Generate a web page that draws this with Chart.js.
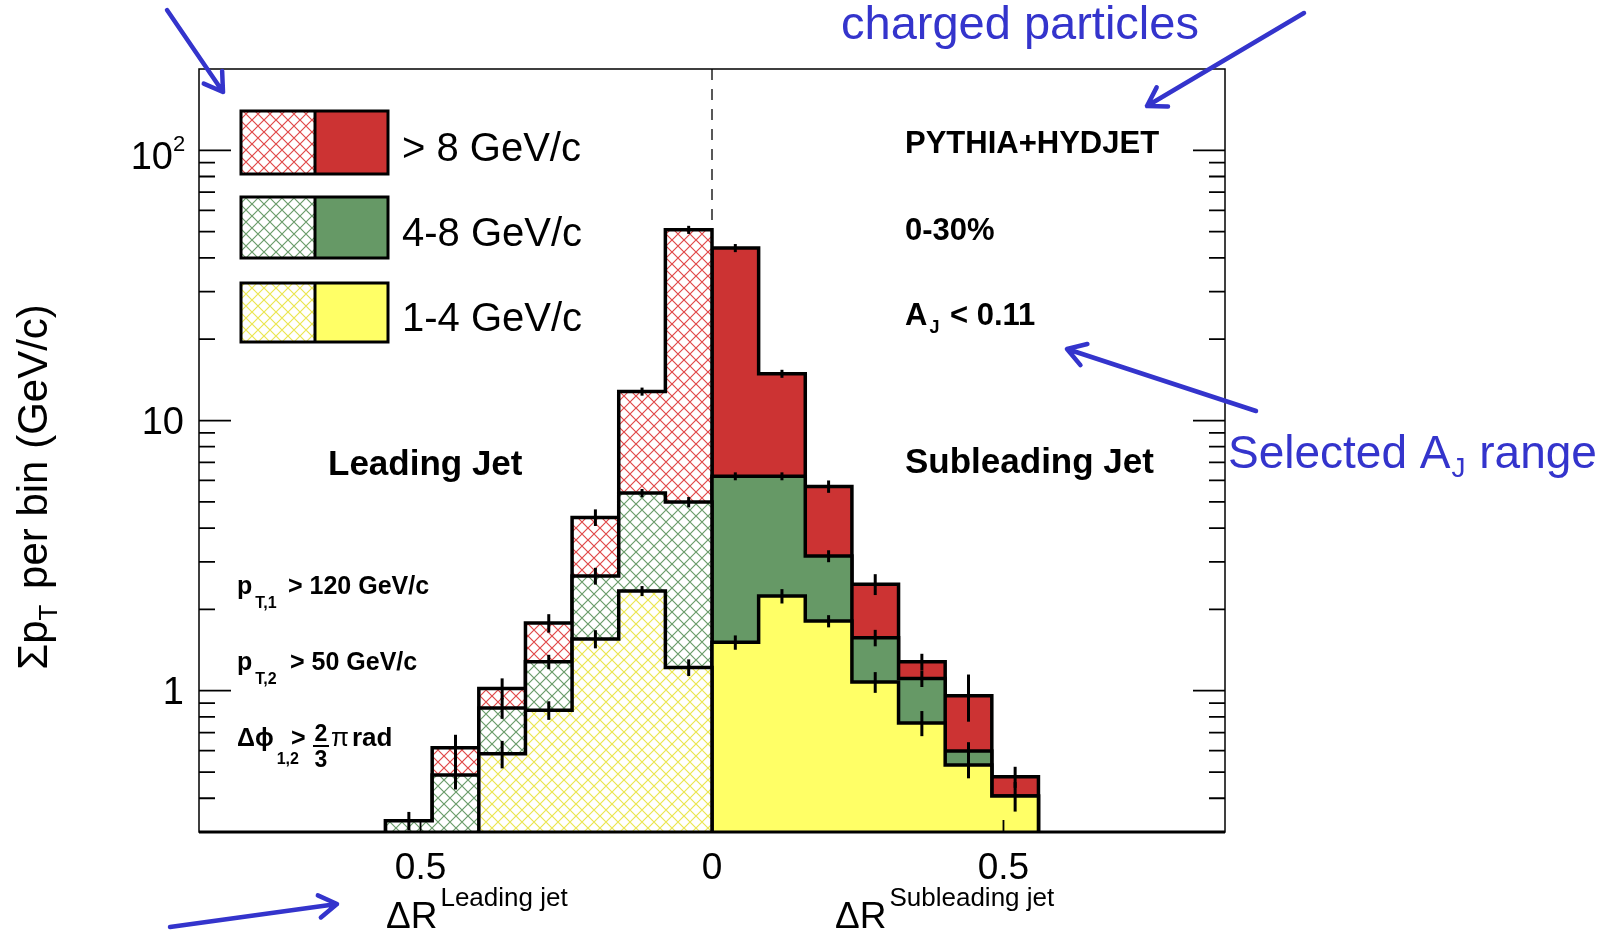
<!DOCTYPE html>
<html>
<head>
<meta charset="utf-8">
<script src="https://cdn.jsdelivr.net/npm/chart.js@4.4.1/dist/chart.umd.min.js"></script>
<style>
  html, body { margin: 0; padding: 0; background: #fff; }
  #wrap { width: 1614px; height: 932px; }
</style>
</head>
<body>
<div id="wrap"><canvas id="jetChart" width="1614" height="932"></canvas></div>
<script>
// ΔR bins (0.08 wide); leading jet is drawn on the negative side
const binWidth = 0.08;
const leadBins = [-0.56, -0.48, -0.40, -0.32, -0.24, -0.16, -0.08];
const subBins  = [0, 0.08, 0.16, 0.24, 0.32, 0.40, 0.48];

// stacked sums (GeV/c): 1-4, 1-8, all (>1)
const lead1to4  = [0.2, 0.2, 0.584, 0.847, 1.555, 2.34, 1.22];
const lead1to8  = [0.33, 0.488, 0.863, 1.28, 2.66, 5.39, 4.99];
const leadAll   = [0.33, 0.615, 1.02, 1.78, 4.38, 12.8, 50.8];
const sub1to4   = [1.51, 2.24, 1.81, 1.077, 0.76, 0.531, 0.408];
const sub1to8   = [6.22, 6.22, 3.15, 1.57, 1.11, 0.598, 0.408];
const subAll    = [43.5, 14.9, 5.70, 2.48, 1.28, 0.958, 0.48];

// error bars
const lead1to4Err = [0, 0, 0.068, 0.067, 0.12, 0.10, 0.086];
const lead1to8Err = [0, 0.057, 0.076, 0.078, 0.19, 0.19, 0.22];
const leadAllErr  = [0.026, 0.072, 0.091, 0.14, 0.31, 0.44, 1.75];
const sub1to4Err  = [0.092, 0.137, 0.094, 0.095, 0.081, 0.057, 0.051];
const sub1to8Err  = [0.21, 0.21, 0.16, 0.11, 0.078, 0.047, 0];
const subAllErr   = [1.5, 0.51, 0.30, 0.22, 0.09, 0.19, 0.043];

// axis ticks
const yMajor = [1, 10, 100];
const yMinor = [0.4, 0.5, 0.6, 0.7, 0.8, 0.9, 2, 3, 4, 5, 6, 7, 8, 9, 20, 30, 40, 50, 60, 70, 80, 90];
const xTicks = [-0.5, 0, 0.5];
const xTickLabels = ['0.5', '0', '0.5'];

const legendLabels = ['> 8 GeV/c', '4-8 GeV/c', '1-4 GeV/c'];

const FONT = '"Liberation Sans", Arial, Helvetica, sans-serif';
const BLUE = '#3434cc';
const RED = '#cc3333', GREEN = '#669966', YELLOW = '#ffff66';

// cross hatch on white, like ROOT fill style 3344
function hatch(color) {
  const s = 12;
  const c = document.createElement('canvas');
  c.width = c.height = s;
  const g = c.getContext('2d');
  g.fillStyle = '#fff';
  g.fillRect(0, 0, s, s);
  g.strokeStyle = color;
  g.lineWidth = 1.2;
  g.beginPath();
  g.moveTo(-1, -1); g.lineTo(s + 1, s + 1);
  g.moveTo(s + 1, -1); g.lineTo(-1, s + 1);
  g.stroke();
  return g.createPattern(c, 'repeat');
}
const redHatch = hatch('#e04848');
const greenHatch = hatch('#6a9c6a');
const yellowHatch = hatch('#ebe650');

// histogram outline as a step line, closed down to the floor at both ends
const FLOOR = 0.05;
function stepData(edges, vals) {
  const pts = [{ x: edges[0], y: FLOOR }];
  vals.forEach((v, i) => pts.push({ x: edges[i], y: v }));
  const end = edges[edges.length - 1] + binWidth;
  pts.push({ x: end, y: vals[vals.length - 1] });
  pts.push({ x: end, y: FLOOR });
  return pts;
}
function histo(edges, vals, fill, order) {
  return {
    data: stepData(edges, vals),
    stepped: true,
    fill: 'start',
    backgroundColor: fill,
    borderColor: '#000',
    borderWidth: 3.5,
    borderJoinStyle: 'miter',
    pointRadius: 0,
    order: order
  };
}

const errorSets = [
  [leadBins, lead1to4, lead1to4Err], [leadBins, lead1to8, lead1to8Err], [leadBins, leadAll, leadAllErr],
  [subBins, sub1to4, sub1to4Err], [subBins, sub1to8, sub1to8Err], [subBins, subAll, subAllErr]
];

function runs(ctx, x, y, parts) {
  let cx = x;
  ctx.textAlign = 'left';
  parts.forEach(p => {
    ctx.font = p[1];
    ctx.fillText(p[0], cx, y + (p[2] || 0));
    cx += ctx.measureText(p[0]).width + (p[3] || 0);
  });
}
function runsWidth(ctx, parts) {
  let w = 0;
  parts.forEach(p => { ctx.font = p[1]; w += ctx.measureText(p[0]).width + (p[3] || 0); });
  return w;
}

function arrow(ctx, x1, y1, x2, y2) {
  const a = Math.atan2(y1 - y2, x1 - x2);
  const L = 21, t = 32 * Math.PI / 180;
  ctx.beginPath();
  ctx.moveTo(x1, y1); ctx.lineTo(x2, y2);
  ctx.moveTo(x2 + L * Math.cos(a + t), y2 + L * Math.sin(a + t));
  ctx.lineTo(x2, y2);
  ctx.lineTo(x2 + L * Math.cos(a - t), y2 + L * Math.sin(a - t));
  ctx.stroke();
}

// dashed line at ΔR = 0 behind the histograms
const centreLine = {
  id: 'centreLine',
  beforeDatasetsDraw(chart) {
    const { ctx, chartArea, scales: { x } } = chart;
    const px = x.getPixelForValue(0);
    ctx.save();
    ctx.strokeStyle = '#222';
    ctx.lineWidth = 1.5;
    ctx.setLineDash([11, 9]);
    ctx.beginPath();
    ctx.moveTo(px, chartArea.top);
    ctx.lineTo(px, chartArea.bottom);
    ctx.stroke();
    ctx.restore();
  }
};

const errorBars = {
  id: 'errorBars',
  afterDatasetsDraw(chart) {
    const { ctx, chartArea, scales: { x, y } } = chart;
    ctx.save();
    ctx.beginPath();
    ctx.rect(chartArea.left, chartArea.top, chartArea.right - chartArea.left, chartArea.bottom - chartArea.top);
    ctx.clip();
    ctx.strokeStyle = '#000';
    ctx.lineWidth = 3;
    errorSets.forEach(([edges, vals, errs]) => {
      edges.forEach((e, i) => {
        if (!errs[i]) return;
        const px = x.getPixelForValue(e + binWidth / 2);
        ctx.beginPath();
        ctx.moveTo(px, y.getPixelForValue(Math.max(vals[i] - errs[i], FLOOR)));
        ctx.lineTo(px, y.getPixelForValue(vals[i] + errs[i]));
        ctx.stroke();
      });
    });
    ctx.restore();
  }
};

const decorations = {
  id: 'decorations',
  afterDraw(chart) {
    const { ctx, chartArea: a, scales: { x, y } } = chart;
    ctx.save();

    // ticks on both y sides and bottom
    ctx.strokeStyle = '#000';
    ctx.lineWidth = 1.8;
    ctx.beginPath();
    yMajor.forEach(v => {
      const py = y.getPixelForValue(v);
      ctx.moveTo(a.left, py); ctx.lineTo(a.left + 32, py);
      ctx.moveTo(a.right, py); ctx.lineTo(a.right - 32, py);
    });
    yMinor.forEach(v => {
      const py = y.getPixelForValue(v);
      ctx.moveTo(a.left, py); ctx.lineTo(a.left + 16, py);
      ctx.moveTo(a.right, py); ctx.lineTo(a.right - 16, py);
    });
    xTicks.forEach(v => {
      const px = x.getPixelForValue(v);
      ctx.moveTo(px, a.bottom); ctx.lineTo(px, a.bottom - 12);
    });
    ctx.stroke();

    // frame
    ctx.lineWidth = 1.5;
    ctx.strokeRect(a.left, a.top, a.right - a.left, a.bottom - a.top);
    ctx.lineWidth = 3;
    ctx.beginPath();
    ctx.moveTo(a.left, a.bottom); ctx.lineTo(a.right, a.bottom);
    ctx.stroke();

    ctx.fillStyle = '#000';
    // y tick labels
    ctx.textAlign = 'right';
    ctx.font = '38px ' + FONT;
    ctx.fillText('1', 184, y.getPixelForValue(1) + 13.5);
    ctx.fillText('10', 184, y.getPixelForValue(10) + 13.5);
    ctx.fillText('10', 173, y.getPixelForValue(100) + 19);
    ctx.font = '22px ' + FONT;
    ctx.textAlign = 'left';
    ctx.fillText('2', 173, y.getPixelForValue(100) + 1);

    // x tick labels
    ctx.textAlign = 'center';
    ctx.font = '37px ' + FONT;
    xTicks.forEach((v, i) => ctx.fillText(xTickLabels[i], x.getPixelForValue(v), 879));

    // x titles
    runs(ctx, 386, 928, [['ΔR', '37px ' + FONT, 0, 3], ['Leading jet', '26px ' + FONT, -22]]);
    runs(ctx, 835, 928, [['ΔR', '37px ' + FONT, 0, 3], ['Subleading jet', '26px ' + FONT, -22]]);

    // y title, rotated
    ctx.save();
    ctx.translate(47, 487);
    ctx.rotate(-Math.PI / 2);
    const yParts = [['Σp', '42px ' + FONT], ['T', '26px ' + FONT, 10, 4], [' per bin (GeV/c)', '42px ' + FONT]];
    runs(ctx, -runsWidth(ctx, yParts) / 2, 0, yParts);
    ctx.restore();

    // legend
    const fills = [[redHatch, RED], [greenHatch, GREEN], [yellowHatch, YELLOW]];
    const rows = [[111, 174], [197, 258], [283, 342]];
    rows.forEach((r, i) => {
      const h = r[1] - r[0];
      ctx.fillStyle = fills[i][0];
      ctx.fillRect(241, r[0], 74, h);
      ctx.fillStyle = fills[i][1];
      ctx.fillRect(315, r[0], 73, h);
      ctx.strokeStyle = '#000';
      ctx.lineWidth = 3;
      ctx.strokeRect(241, r[0], 147, h);
      ctx.beginPath(); ctx.moveTo(315, r[0]); ctx.lineTo(315, r[1]); ctx.stroke();
      ctx.fillStyle = '#000';
      ctx.textAlign = 'left';
      ctx.font = '40px ' + FONT;
      ctx.fillText(legendLabels[i], 402, (r[0] + r[1]) / 2 + 18.5);
    });

    // labels inside the frame
    const B = s => 'bold ' + s + 'px ' + FONT;
    ctx.fillStyle = '#000';
    ctx.textAlign = 'left';
    ctx.font = B(31);
    ctx.fillText('PYTHIA+HYDJET', 905, 153);
    ctx.fillText('0-30%', 905, 240);
    runs(ctx, 905, 325, [['A', B(31), 0, 2], ['J', B(18), 8, 2], [' < 0.11', B(31)]]);
    ctx.font = B(35);
    ctx.fillText('Leading Jet', 328, 475);
    ctx.fillText('Subleading Jet', 905, 473);

    runs(ctx, 237, 594, [['p', B(25), 0, 3], ['T,1', B(16), 14]]);
    ctx.font = B(25);
    ctx.fillText('> 120 GeV/c', 288, 594);
    runs(ctx, 237, 670, [['p', B(25), 0, 3], ['T,2', B(16), 14]]);
    ctx.font = B(25);
    ctx.fillText('> 50 GeV/c', 290, 670);
    runs(ctx, 237, 746, [['Δϕ', B(25), 0, 3], ['1,2', B(16), 18]]);
    ctx.font = B(25);
    ctx.fillText('>', 291, 746);
    ctx.textAlign = 'center';
    ctx.font = B(23);
    ctx.fillText('2', 321, 741);
    ctx.fillText('3', 321, 767);
    ctx.lineWidth = 2;
    ctx.beginPath(); ctx.moveTo(313, 746); ctx.lineTo(329, 746); ctx.stroke();
    ctx.textAlign = 'left';
    ctx.font = '26px ' + FONT;
    ctx.fillText('π', 331, 746);
    ctx.font = B(26);
    ctx.fillText('rad', 352, 746);

    // blue annotations
    ctx.fillStyle = BLUE;
    ctx.font = '47px ' + FONT;
    ctx.fillText('charged particles', 841, 39);
    runs(ctx, 1228, 468, [['Selected A', '46px ' + FONT, 0, 1], ['J', '28px ' + FONT, 9, 1], [' range', '46px ' + FONT]]);
    ctx.strokeStyle = BLUE;
    ctx.lineWidth = 4.5;
    ctx.lineCap = 'round';
    ctx.lineJoin = 'round';
    arrow(ctx, 167, 10, 223, 92);
    arrow(ctx, 1304, 13, 1147, 106);
    arrow(ctx, 1256, 411, 1067, 349);
    arrow(ctx, 170, 927, 337, 904);

    ctx.restore();
  }
};

new Chart(document.getElementById('jetChart'), {
  type: 'line',
  data: {
    datasets: [
      histo(leadBins, lead1to4, yellowHatch, 1),
      histo(subBins, sub1to4, YELLOW, 1),
      histo(leadBins, lead1to8, greenHatch, 2),
      histo(subBins, sub1to8, GREEN, 2),
      histo(leadBins, leadAll, redHatch, 3),
      histo(subBins, subAll, RED, 3)
    ]
  },
  options: {
    responsive: false,
    animation: false,
    devicePixelRatio: 1,
    layout: { padding: { left: 199, right: 389, top: 69, bottom: 100 } },
    plugins: { legend: { display: false }, tooltip: { enabled: false } },
    scales: {
      x: { type: 'linear', min: -0.88, max: 0.88, display: false },
      y: { type: 'logarithmic', min: 0.3, max: 200, display: false }
    }
  },
  plugins: [centreLine, errorBars, decorations]
});
</script>
</body>
</html>
